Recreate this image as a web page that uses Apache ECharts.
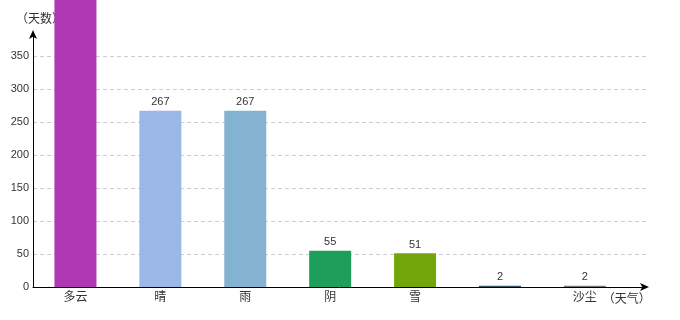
<!DOCTYPE html>
<html>
<head>
<meta charset="utf-8">
<script src="https://cdn.jsdelivr.net/npm/echarts@6/dist/echarts.min.js"></script>
<style>html,body{margin:0;padding:0;background:#fff;}#c{width:680px;height:320px;}</style>
</head>
<body>
<div id="c"></div>
<script>
var categories = ['多云', '晴', '雨', '阴', '雪', '', '沙尘'];
var values = [455, 267, 267, 55, 51, 2, 2];
var colors = ['#b037b4', '#9bb7e5', '#84b3d2', '#1d9f5b', '#72a70b', '#3d586b', '#777777'];
var yTicks = [0, 50, 100, 150, 200, 250, 300, 350];
var xTicks = [0, 1, 2, 3, 4, 5, 6];

var FONT = 'Arial, "Liberation Sans", "Noto Sans CJK SC", sans-serif';
var chart = echarts.init(document.getElementById('c'), null, {renderer: 'canvas'});
var data = values.map(function (v, i) {
  return {value: [i, v], itemStyle: {color: colors[i]}};
});
chart.setOption({
  animation: false,
  title: {
    text: '（天数）', left: 11, top: 9, z: 0,
    textStyle: {fontSize: 12, fontWeight: 'normal', color: '#333', fontFamily: FONT}
  },
  grid: {left: 33, right: 34, top: 33, bottom: 33, containLabel: false},
  xAxis: {
    type: 'value', min: -0.5, max: 6.72,
    name: '（天气）', nameLocation: 'end', nameGap: 4,
    nameTextStyle: {align: 'right', verticalAlign: 'top', padding: [7, 0, 0, 0], fontSize: 12, color: '#333', fontFamily: FONT},
    axisLine: {show: true, onZero: false, lineStyle: {color: '#000', width: 1}, symbol: ['none', 'arrow'], symbolSize: [6, 9], symbolOffset: [0, 3]},
    axisTick: {show: false},
    splitLine: {show: false},
    axisLabel: {
      customValues: xTicks, margin: 5, fontSize: 12, color: '#333', fontFamily: FONT,
      formatter: function (v) { return categories[Math.round(v)] || ''; }
    }
  },
  yAxis: {
    type: 'value', min: 0, max: 385, interval: 50,
    axisLine: {show: true, onZero: false, lineStyle: {color: '#000', width: 1}, symbol: ['none', 'arrow'], symbolSize: [6, 9], symbolOffset: [0, 3]},
    axisTick: {show: false},
    axisLabel: {showMaxLabel: false, margin: 4, fontSize: 11, color: '#333', fontFamily: FONT,
      formatter: function (v) { return yTicks.indexOf(v) >= 0 ? String(v) : ''; }},
    splitLine: {show: true, showMinLine: false, showMaxLine: false, lineStyle: {color: '#ccc', type: [4, 3], width: 1}}
  },
  series: [{
    type: 'bar', data: data, barWidth: 42, clip: false,
    label: {show: true, position: 'top', distance: 3, fontSize: 11, color: '#333', fontFamily: FONT}
  }]
});
</script>
</body>
</html>
